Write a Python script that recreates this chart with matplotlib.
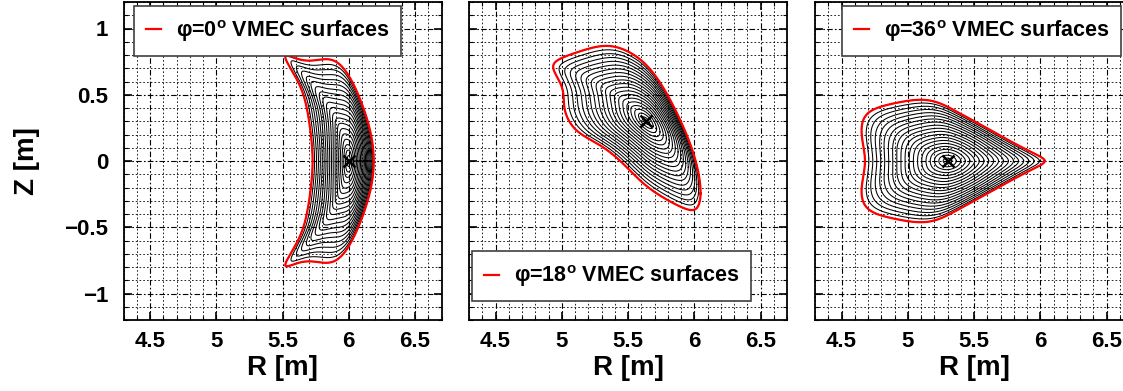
import numpy as np
import matplotlib
matplotlib.use('Agg')
import matplotlib.pyplot as plt
from matplotlib.ticker import MultipleLocator

plt.rcParams['font.family'] = ['Liberation Sans', 'DejaVu Sans']
plt.rcParams['font.weight'] = 'bold'
plt.rcParams['mathtext.fontset'] = 'custom'
plt.rcParams['mathtext.bf'] = 'Liberation Sans:bold'
plt.rcParams['mathtext.rm'] = 'Liberation Sans:bold'

# toroidal angles of the three cuts
phi_labels = ['0', '18', '36']

# magnetic axis (x marker) per cut, in m
R_axis = [6.00, 5.636, 5.30]
Z_axis = [0.0, 0.304, 0.0]

# last closed surface
# phi=0 : upper half, outer midplane -> over the top -> inner midplane
R_bnd_0 = [6.19, 6.17, 6.125, 6.05, 5.96, 5.86, 5.76, 5.645, 5.565, 5.52,
           5.545, 5.61, 5.66, 5.695, 5.72, 5.725]
Z_bnd_0 = [0.00, 0.18, 0.36, 0.55, 0.70, 0.76, 0.77, 0.755, 0.79, 0.79,
           0.72, 0.62, 0.485, 0.335, 0.16, 0.00]
# phi=18 : full contour, counter clockwise
R_bnd_18 = [6.045, 6.038, 5.993, 5.917, 5.805, 5.692, 5.566, 5.44, 5.30, 5.163,
            5.012, 4.936, 4.962, 5.00, 5.012, 5.038, 5.075, 5.188, 5.30, 5.44,
            5.566, 5.691, 5.817, 5.943, 5.993, 6.04]
Z_bnd_18 = [-0.25, -0.118, 0.058, 0.259, 0.485, 0.662, 0.787, 0.85, 0.868, 0.838,
            0.775, 0.737, 0.636, 0.56, 0.46, 0.36, 0.259, 0.183, 0.108, 0.0,
            -0.118, -0.23, -0.307, -0.357, -0.375, -0.32]
# phi=36 : upper half, outer tip -> over the top -> inner midplane
R_bnd_36 = [6.043, 5.973, 5.849, 5.70, 5.545, 5.42, 5.294, 5.168, 5.042, 4.891,
            4.766, 4.677, 4.652, 4.665, 4.677]
Z_bnd_36 = [0.0, 0.045, 0.108, 0.196, 0.272, 0.347, 0.415, 0.453, 0.46, 0.435,
            0.398, 0.334, 0.234, 0.108, 0.0]

n_surf = 20          # number of flux surfaces inside the boundary
x_ticks = [4.5, 5, 5.5, 6, 6.5]
y_ticks = [-1, -0.5, 0, 0.5, 1]


def mirror(R, Z):
    """stellarator symmetric cut: build lower half from the upper half"""
    R = np.asarray(R, float)
    Z = np.asarray(Z, float)
    return np.r_[R, R[-2:0:-1]], np.r_[Z, -Z[-2:0:-1]]


def surfaces(Rb, Zb, Rax, Zax, nsurf, M=8):
    """fourier fit of the boundary; m=1 part scales with rho, the rest with rho**2"""
    Rb = np.asarray(Rb, float)
    Zb = np.asarray(Zb, float)
    n = len(Rb)
    th = 2*np.pi*np.arange(n)/n
    A = np.column_stack([np.ones(n)] + [np.cos(m*th) for m in range(1, M+1)]
                        + [np.sin(m*th) for m in range(1, M+1)])
    cR = np.linalg.lstsq(A, Rb, rcond=None)[0]
    cZ = np.linalg.lstsq(A, Zb, rcond=None)[0]
    t = np.linspace(0, 2*np.pi, 721)
    Bt = np.column_stack([np.ones_like(t)] + [np.cos(m*t) for m in range(1, M+1)]
                         + [np.sin(m*t) for m in range(1, M+1)])
    RB, ZB = Bt @ cR, Bt @ cZ
    R1 = cR[1]*np.cos(t) + cR[M+1]*np.sin(t)
    Z1 = cZ[1]*np.cos(t) + cZ[M+1]*np.sin(t)
    out = []
    for rho in np.linspace(0, 1, nsurf+1)[1:]:
        R = Rax + rho*R1 + rho**2*(RB - Rax - R1)
        Z = Zax + rho*Z1 + rho**2*(ZB - Zax - Z1)
        out.append((R, Z))
    return out


bnds = [mirror(R_bnd_0, Z_bnd_0),
        (R_bnd_18, Z_bnd_18),
        mirror(R_bnd_36, Z_bnd_36)]

W, H = 1123., 391.
fig = plt.figure(figsize=(W/100, H/100), dpi=100)
x0s = [123.5, 469., 815.]
leg_pos = [('upper left', (0.033, 0.987)),
           ('lower left', (0.009, 0.06)),
           ('upper left', (0.085, 0.987))]

for i in range(3):
    ax = fig.add_axes([x0s[i]/W, (H-320)/H, 318/W, 318/H])
    surfs = surfaces(bnds[i][0], bnds[i][1], R_axis[i], Z_axis[i], n_surf)
    for R, Z in surfs:
        ax.plot(R, Z, color='k', lw=0.75, zorder=3)
    Rb, Zb = surfs[-1]
    ln, = ax.plot(Rb, Zb, color='red', lw=1.6, zorder=4,
                  label=r'φ=%s$^{\mathbf{o}}$ VMEC surfaces' % phi_labels[i])
    ax.plot(R_axis[i], Z_axis[i], 'x', color='k', ms=9, mew=1.8, zorder=5)

    ax.set_xlim(4.3, 6.7)
    ax.set_ylim(-1.2, 1.2)
    ax.set_xticks(x_ticks)
    ax.set_xticklabels(['4.5', '5', '5.5', '6', '6.5'])
    ax.set_yticks(y_ticks)
    ax.set_yticklabels(['\u22121', '\u22120.5', '0', '0.5', '1'])
    ax.xaxis.set_minor_locator(MultipleLocator(0.1))
    ax.yaxis.set_minor_locator(MultipleLocator(0.1))
    ax.tick_params(which='both', direction='in', top=True, right=True,
                   labelsize=16, color='k')
    ax.tick_params(which='major', length=6, width=1.2)
    ax.tick_params(which='minor', length=3, width=0.8)
    ax.tick_params(axis='x', pad=8)
    ax.tick_params(axis='y', pad=11)
    ax.set_axisbelow(True)
    ax.grid(which='major', color='k', lw=0.8, ls=(0, (5, 2, 1.5, 2)))
    ax.grid(which='minor', color='k', lw=0.6, ls=(0, (2, 2.5)))
    for sp in ax.spines.values():
        sp.set_linewidth(1.3)
    ax.set_xlabel('R [m]', fontsize=20, fontweight='bold')
    ax.xaxis.set_label_coords(0.5, -0.11)
    if i == 0:
        ax.set_ylabel('Z [m]', fontsize=20, fontweight='bold')
        ax.yaxis.set_label_coords(-0.262, 0.5)
    else:
        ax.tick_params(axis='y', labelleft=False)

    loc, anchor = leg_pos[i]
    leg = ax.legend(handles=[ln], loc=loc, bbox_to_anchor=anchor,
                    borderaxespad=0, fontsize=15.5, handlelength=0.7,
                    handletextpad=0.7, borderpad=0.55, fancybox=False,
                    framealpha=1, edgecolor='0.25')
    leg.get_frame().set_linewidth(1.2)
    leg.set_zorder(10)

fig.savefig('out.png', dpi=100)
